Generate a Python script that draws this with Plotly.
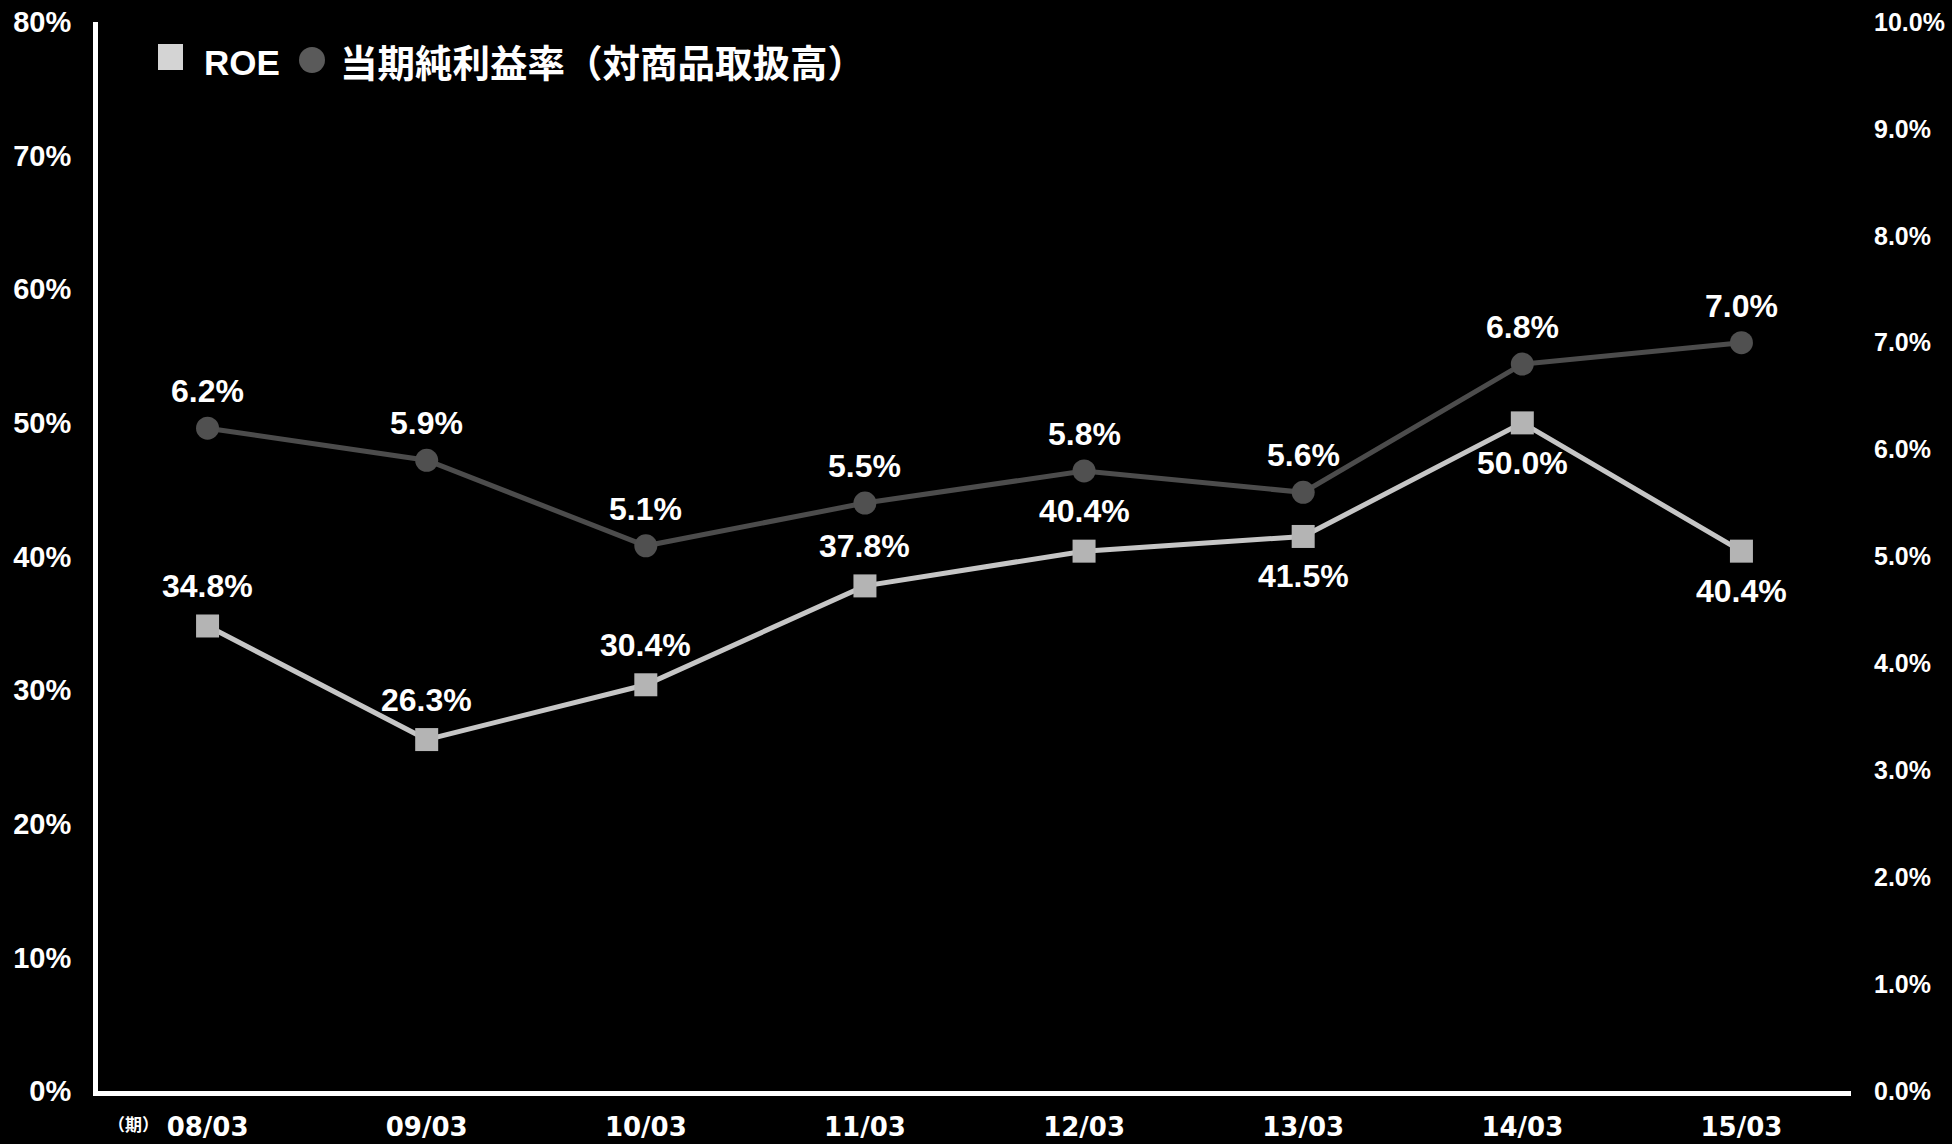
import plotly.graph_objects as go

periods = ["08/03", "09/03", "10/03", "11/03", "12/03", "13/03", "14/03", "15/03"]
roe = [34.8, 26.3, 30.4, 37.8, 40.4, 41.5, 50.0, 40.4]
net_margin = [6.2, 5.9, 5.1, 5.5, 5.8, 5.6, 6.8, 7.0]
roe_label_pos = ["above", "above", "above", "above", "above", "below", "below", "below"]
left_ticks = [0, 10, 20, 30, 40, 50, 60, 70, 80]
right_ticks = [0, 1, 2, 3, 4, 5, 6, 7, 8, 9, 10]

W, H = 1952, 1144
L, R, T, B = 98, 101, 22, 53
PW, PH = W - L - R, H - T - B

def px_x(p):
    return (p - L) / PW

def px_y(p):
    return (H - B - p) / PH

LAT = "Liberation Sans, Arial, sans-serif"
CJK = "Noto Sans CJK JP, sans-serif"

fig = go.Figure()

fig.add_trace(go.Scatter(
    x=periods, y=net_margin, yaxis="y2", mode="lines+markers",
    line=dict(color="#4c4c4c", width=5),
    marker=dict(symbol="circle", size=23, color="#505050", line=dict(width=0)),
    showlegend=False, hoverinfo="skip",
))
fig.add_trace(go.Scatter(
    x=periods, y=roe, mode="lines+markers",
    line=dict(color="#c6c6c6", width=5),
    marker=dict(symbol="square", size=23, color="#b4b4b4", line=dict(width=0)),
    showlegend=False, hoverinfo="skip",
))

ann = []
for p, v in zip(periods, net_margin):
    ann.append(dict(x=p, y=v, xref="x", yref="y2", text=f"<b>{v:.1f}%</b>",
                    showarrow=False, yanchor="middle", yshift=37,
                    font=dict(family=LAT, size=32, color="white")))
for p, v, pos in zip(periods, roe, roe_label_pos):
    ann.append(dict(x=p, y=v, xref="x", yref="y", text=f"<b>{v:.1f}%</b>",
                    showarrow=False, yanchor="middle", yshift=40 if pos == "above" else -40,
                    font=dict(family=LAT, size=32, color="white")))

# legend
ann.append(dict(x=px_x(202), y=px_y(62), xref="paper", yref="paper", text="<b>ROE</b>",
                showarrow=False, xanchor="left", yanchor="middle",
                font=dict(family=LAT, size=35, color="white")))
ann.append(dict(x=px_x(338), y=px_y(60), xref="paper", yref="paper",
                text="<b>当期純利益率（対商品取扱高）</b>",
                showarrow=False, xanchor="left", yanchor="middle",
                font=dict(family=CJK, size=37.5, color="white")))
ann.append(dict(x=px_x(133), y=px_y(1123), xref="paper", yref="paper", text="<b>（期）</b>",
                showarrow=False, xanchor="center", yanchor="middle",
                font=dict(family=CJK, size=17, color="white")))

shapes = [
    dict(type="rect", xref="paper", yref="paper",
         x0=px_x(158), x1=px_x(183), y0=px_y(70), y1=px_y(44),
         fillcolor="#d4d4d4", line=dict(width=0)),
    dict(type="circle", xref="paper", yref="paper",
         x0=px_x(299), x1=px_x(325), y0=px_y(73), y1=px_y(47),
         fillcolor="#5a5a5a", line=dict(width=0)),
]

fig.update_layout(
    width=W, height=H,
    margin=dict(l=L, r=R, t=T, b=B, pad=0, autoexpand=False),
    paper_bgcolor="black", plot_bgcolor="black",
    showlegend=False,
    annotations=ann, shapes=shapes,
    xaxis=dict(type="category", categoryorder="array", categoryarray=periods,
               range=[-0.5, 7.5], showgrid=False, zeroline=False, automargin=False,
               showline=True, linecolor="white", linewidth=5,
               ticks="", ticklabelstandoff=9,
               tickfont=dict(family="DejaVu Sans, sans-serif", size=26, color="white", weight="bold")),
    yaxis=dict(range=[0, 80], tickvals=left_ticks, ticktext=[f"{v}%" for v in left_ticks],
               showgrid=False, zeroline=False, showline=True, linecolor="white", linewidth=5,
               ticks="", ticklabelstandoff=16, automargin=False,
               tickfont=dict(family=LAT, size=29, color="white", weight="bold")),
    yaxis2=dict(range=[0, 10], overlaying="y", side="right",
                tickvals=right_ticks, ticktext=[f"{v:.1f}%" for v in right_ticks],
                showgrid=False, zeroline=False, showline=False, automargin=False,
                ticks="", ticklabelstandoff=22,
                tickfont=dict(family=LAT, size=25, color="white", weight="bold")),
)

fig.write_html(
    "out.html",
    config={"displayModeBar": False},
    post_script="document.body.style.margin='0';document.body.style.overflow='hidden';document.body.style.background='black';",
)
